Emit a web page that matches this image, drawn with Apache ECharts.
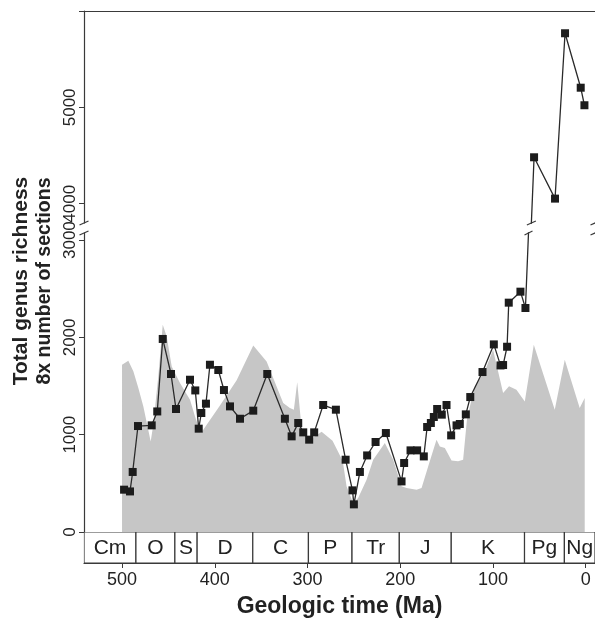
<!DOCTYPE html>
<html>
<head>
<meta charset="utf-8">
<script src="https://cdn.jsdelivr.net/npm/echarts@6/dist/echarts.min.js"></script>
<style>
  html, body { margin: 0; padding: 0; background: #fff; }
  #chart { width: 595px; height: 621px; }
</style>
</head>
<body>
<div id="chart"></div>
<script>
// total genus richness (black squares), age in Ma
const richnessAge = [497.8, 491.4, 488.5, 482.8, 468, 462, 456.1, 447.2, 441.8, 426.7, 421, 417.3, 414.5, 409.5, 405.2, 396.2, 390.1, 383.6, 372.8, 358.5, 343.4, 324.4, 317.1, 310, 304.6, 298.2, 292.8, 283.1, 269.4, 258.9, 251.5, 250, 243.5, 235.7, 226.6, 215.5, 198.6, 195.8, 188.9, 181.8, 174.6, 171, 167, 163.8, 160.2, 155.2, 150.1, 145.1, 139.3, 135.8, 129.3, 124.5, 111.3, 99.1, 91.9, 89.1, 84.8, 83, 70.4, 65, 55.7, 33.1, 22.3, 5.4, 1.4];
const richnessVal = [435, 417, 617, 1089, 1096, 1239, 1984, 1624, 1264, 1565, 1455, 1062, 1223, 1319, 1719, 1665, 1459, 1291, 1164, 1247, 1624, 1164, 983, 1120, 1024, 949, 1024, 1305, 1257, 743, 428, 284, 617, 787, 925, 1017, 520, 709, 839, 839, 777, 1079, 1120, 1182, 1264, 1206, 1305, 993, 1096, 1110, 1209, 1387, 1644, 1928, 1712, 1716, 1904, 2357, 2470, 2302, 4482, 4053, 5769, 5204, 5022];

// 8x number of sections (grey area)
const sectionsAge = [500, 493.2, 487.8, 482.4, 477, 469.1, 466.3, 460.9, 456.1, 451.8, 446.4, 437.5, 426.7, 421.3, 415, 408.7, 394.4, 376.4, 358.5, 344.1, 337, 326.2, 319, 314.7, 311.1, 306.4, 297.4, 284.8, 273, 262, 257.9, 250.8, 245.4, 236.3, 229.2, 216.6, 207.6, 198.6, 193.2, 182.4, 177, 169.9, 160.9, 157.3, 151.9, 144.7, 137.6, 132.2, 130.4, 127.9, 119.6, 108.8, 99.9, 89.1, 82.7, 74.7, 65.7, 56, 33.4, 22.6, 6.5, 1.1];
const sectionsVal = [1720, 1760, 1651, 1480, 1291, 931, 1103, 1599, 2130, 2010, 1702, 1531, 1360, 1188, 1016, 1103, 1300, 1560, 1918, 1753, 1583, 1326, 1274, 1257, 1538, 1069, 949, 1030, 938, 729, 469, 298, 349, 538, 743, 915, 743, 469, 452, 435, 452, 674, 949, 880, 863, 736, 726, 743, 760, 1172, 1497, 1651, 1874, 1429, 1497, 1463, 1342, 1925, 1257, 1771, 1274, 1377];

// geologic periods
const periodNames = ['Cm', 'O', 'S', 'D', 'C', 'P', 'Tr', 'J', 'K', 'Pg', 'Ng'];
const periodStart = [541, 485, 443, 419, 359, 299, 252, 201, 145, 66, 23];
const periodEnd = [485, 443, 419, 359, 299, 252, 201, 145, 66, 23, -10];

const xTicks = [0, 100, 200, 300, 400, 500];
const lowerTicks = [0, 1000, 2000, 3000];
const upperTicks = [4000, 5000, 6000];
const upperLabels = [4000, 5000];

const X_MIN = -10, X_MAX = 541;
const LOW_MAX = 3073, UP_MIN = 3800, UP_MAX = 6000;

const FONT = "'Liberation Sans', Arial, sans-serif";
const AX = '#3a3a3a';

const richness = richnessAge.map((a, i) => [a, richnessVal[i]]);
const sections = sectionsAge.map((a, i) => [a, sectionsVal[i]]);
const periods = periodNames.map((n, i) => [periodStart[i], periodEnd[i], n]);

let chart = echarts.init(document.getElementById('chart'));

const gridLeft = 84, gridW = 511;

function xAxisBase(idx) {
  return {
    gridIndex: idx, type: 'value', min: X_MIN, max: X_MAX, inverse: true,
    splitLine: { show: false },
    axisLine: { show: true, onZero: false, lineStyle: { color: AX, width: 1.2 } },
    axisTick: { show: false }, axisLabel: { show: false }
  };
}

const plain = function (v) { return String(v); };
const tickLabel = { color: '#222', fontSize: 17, fontFamily: FONT, formatter: plain };

chart.setOption({
  animation: false,
  grid: [
    { left: gridLeft, width: gridW, top: 11, height: 212 },
    { left: gridLeft, width: gridW, top: 233, height: 299 },
    { left: gridLeft, width: gridW, top: 532, height: 31 }
  ],
  xAxis: [
    Object.assign(xAxisBase(0), { position: 'top' }),
    Object.assign(xAxisBase(1), { position: 'bottom' }),
    Object.assign(xAxisBase(2), {
      position: 'bottom',
      axisTick: { show: true, length: 5, inside: false, customValues: xTicks, lineStyle: { color: AX } },
      axisLabel: Object.assign({ show: true, margin: 8, customValues: xTicks }, tickLabel, { fontSize: 18 }),
      name: 'Geologic time (Ma)', nameLocation: 'middle', nameGap: 32,
      nameTextStyle: { fontSize: 23, fontWeight: 'bold', color: '#222', fontFamily: FONT }
    })
  ],
  yAxis: [
    {
      gridIndex: 0, type: 'value', min: UP_MIN, max: UP_MAX,
      splitLine: { show: false },
      axisLine: { show: true, onZero: false, lineStyle: { color: AX, width: 1.2 } },
      axisTick: { show: true, length: 5, customValues: upperTicks, lineStyle: { color: AX } },
      axisLabel: Object.assign({ rotate: 90, margin: 5, customValues: upperLabels }, tickLabel)
    },
    {
      gridIndex: 1, type: 'value', min: 0, max: LOW_MAX,
      splitLine: { show: false },
      axisLine: { show: true, onZero: false, lineStyle: { color: AX, width: 1.2 } },
      axisTick: { show: true, length: 5, customValues: lowerTicks, lineStyle: { color: AX } },
      axisLabel: Object.assign({ rotate: 90, margin: 5, customValues: lowerTicks }, tickLabel)
    },
    {
      gridIndex: 2, type: 'value', min: 0, max: 1,
      splitLine: { show: false },
      axisLine: { show: true, onZero: false, lineStyle: { color: AX, width: 1.2 } },
      axisTick: { show: false }, axisLabel: { show: false }
    }
  ],
  series: [
    {
      type: 'line', xAxisIndex: 1, yAxisIndex: 1, data: sections,
      symbol: 'none', lineStyle: { width: 0, opacity: 0 },
      areaStyle: { color: '#c6c6c6', opacity: 1 }, z: 1
    },
    {
      type: 'line', xAxisIndex: 1, yAxisIndex: 1, data: richness, clip: true,
      symbol: 'rect', symbolSize: 8,
      itemStyle: { color: '#1c1c1c' }, lineStyle: { color: '#2a2a2a', width: 1.3 }, z: 3
    },
    {
      type: 'line', xAxisIndex: 0, yAxisIndex: 0, data: richness, clip: true,
      symbol: 'rect', symbolSize: 8,
      itemStyle: { color: '#1c1c1c' }, lineStyle: { color: '#2a2a2a', width: 1.3 }, z: 3
    },
    {
      type: 'custom', xAxisIndex: 2, yAxisIndex: 2, data: periods, clip: true,
      renderItem: function (params, api) {
        const p0 = api.coord([api.value(0), 1]);
        const p1 = api.coord([api.value(1), 0]);
        const x0 = Math.min(p0[0], p1[0]), x1 = Math.max(p0[0], p1[0]);
        return {
          type: 'group',
          children: [
            { type: 'rect', shape: { x: x0, y: p0[1], width: x1 - x0, height: p1[1] - p0[1] },
              style: { fill: '#fff', stroke: AX, lineWidth: 1.2 } },
            { type: 'text', style: { text: periodNames[params.dataIndex], x: (x0 + x1) / 2, y: (p0[1] + p1[1]) / 2 + 1,
              align: 'center', verticalAlign: 'middle', fontSize: 21, fontFamily: FONT, fill: '#222' } }
          ]
        };
      }
    }
  ]
});

// axis-break marks, placed through the axes' own scales
function crossAge(v) {
  for (let i = 1; i < richness.length; i++) {
    const a = richness[i - 1], b = richness[i];
    if ((a[1] - v) * (b[1] - v) < 0) {
      return a[0] + (v - a[1]) / (b[1] - a[1]) * (b[0] - a[0]);
    }
  }
  return null;
}
function slash(p, len) {
  return { type: 'line', shape: { x1: p[0] - len, y1: p[1] + 2, x2: p[0] + len, y2: p[1] - 2 },
    style: { stroke: AX, lineWidth: 1.2 }, z: 10 };
}
const marks = [];
marks.push(slash(chart.convertToPixel({ gridIndex: 0 }, [X_MAX, UP_MIN]), 4.5));
marks.push(slash(chart.convertToPixel({ gridIndex: 1 }, [X_MAX, LOW_MAX]), 4.5));
marks.push(slash(chart.convertToPixel({ gridIndex: 0 }, [X_MIN, UP_MIN]), 4.5));
marks.push(slash(chart.convertToPixel({ gridIndex: 1 }, [X_MIN, LOW_MAX]), 4.5));
const aUp = crossAge(UP_MIN), aLow = crossAge(LOW_MAX);
if (aUp !== null) marks.push(slash(chart.convertToPixel({ gridIndex: 0 }, [aUp, UP_MIN]), 4.5));
if (aLow !== null) marks.push(slash(chart.convertToPixel({ gridIndex: 1 }, [aLow, LOW_MAX]), 4));

marks.push({
  type: 'text', x: 33, y: 281, rotation: Math.PI / 2,
  style: {
    text: '{a|Total genus richness}\n{b|8x number of sections}', align: 'center', verticalAlign: 'middle',
    fontWeight: 'bold', fontFamily: FONT, fill: '#222',
    rich: {
      a: { fontSize: 21, lineHeight: 23, fontWeight: 'bold', fontFamily: FONT, fill: '#222' },
      b: { fontSize: 19.5, lineHeight: 23, fontWeight: 'bold', fontFamily: FONT, fill: '#222' }
    }
  }
});
chart.setOption({ graphic: marks });

window.onresize = function () {
  chart.resize();
};
</script>
</body>
</html>
